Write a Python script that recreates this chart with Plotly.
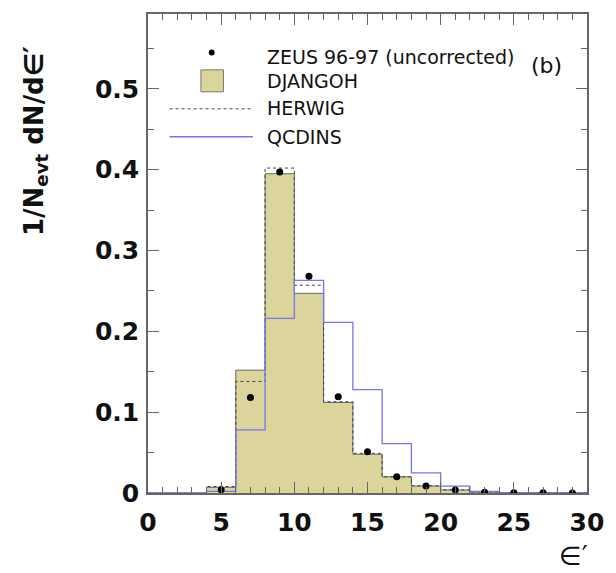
import plotly.graph_objects as go

# ---- data ----
bin_edges = [0, 2, 4, 6, 8, 10, 12, 14, 16, 18, 20, 22, 24, 26, 28, 30]
djangoh = [0, 0, 0.007, 0.152, 0.395, 0.247, 0.112, 0.048, 0.020, 0.0086, 0.0037, 0.0012, 0.0005, 0.0002, 0.0001]
herwig = [0, 0, 0.008, 0.138, 0.402, 0.257, 0.113, 0.049, 0.020, 0.009, 0.004, 0.0013, 0.0005, 0.0002, 0.0001]
qcdins = [0, 0, 0.002, 0.078, 0.216, 0.263, 0.211, 0.128, 0.061, 0.025, 0.0086, 0.002, 0.0005, 0.0002, 0.0001]
zeus_x = [5, 7, 9, 11, 13, 15, 17, 19, 21, 23, 25, 27, 29]
zeus_y = [0.004, 0.118, 0.397, 0.268, 0.119, 0.051, 0.020, 0.0086, 0.0037, 0.0008, 0.0003, 0.0002, 0.0001]
x_ticks = [0, 5, 10, 15, 20, 25, 30]
y_ticks = [0, 0.1, 0.2, 0.3, 0.4, 0.5]
y_tick_labels = ["0", "0.1", "0.2", "0.3", "0.4", "0.5"]

FILL = "#dbd59b"
BLUE = "#7474f4"
FONT = "DejaVu Sans"

def stairs(vals):
    return bin_edges, list(vals) + [vals[-1]]

fig = go.Figure()
sx, sy = stairs(djangoh)
fig.add_trace(go.Scatter(x=sx, y=sy, mode="lines", line=dict(shape="hv", color="#666", width=1),
                         fill="tozeroy", fillcolor=FILL, name="DJANGOH", showlegend=False))
sx, sy = stairs(herwig)
fig.add_trace(go.Scatter(x=sx, y=sy, mode="lines", line=dict(shape="hv", color="#444", width=1, dash="dot"),
                         name="HERWIG", showlegend=False))
sx, sy = stairs(qcdins)
fig.add_trace(go.Scatter(x=sx, y=sy, mode="lines", line=dict(shape="hv", color=BLUE, width=1.3),
                         name="QCDINS", showlegend=False))
fig.add_trace(go.Scatter(x=zeus_x, y=zeus_y, mode="markers", marker=dict(color="black", size=7),
                         name="ZEUS 96-97 (uncorrected)", showlegend=False))

L, R, T, B = 148, 596, 13, 493
W, H = 616, 573
def px(x):
    return (x - L) / (R - L)
def py(y):
    return (B - y) / (B - T)

# legend (manual)
shapes = [
    dict(type="circle", xref="paper", yref="paper", x0=px(210), x1=px(216), y0=py(48.5), y1=py(54.5),
         fillcolor="black", line=dict(width=0)),
    dict(type="rect", xref="paper", yref="paper", x0=px(202), x1=px(225), y0=py(69), y1=py(91),
         fillcolor=FILL, line=dict(color="#777", width=1)),
    dict(type="line", xref="paper", yref="paper", x0=px(170), x1=px(255), y0=py(108), y1=py(108),
         line=dict(color="#444", width=1, dash="dot")),
    dict(type="line", xref="paper", yref="paper", x0=px(170), x1=px(255), y0=py(136), y1=py(136),
         line=dict(color=BLUE, width=1.3)),
]
annotations = []
for txt, yc in [("ZEUS 96-97 (uncorrected)", 56), ("DJANGOH", 80), ("HERWIG", 107), ("QCDINS", 136)]:
    annotations.append(dict(text=txt, xref="paper", yref="paper", x=px(267), y=py(yc), xanchor="left",
                            yanchor="middle", showarrow=False, font=dict(family=FONT, size=19, color="#111")))
annotations.append(dict(text="(b)", xref="paper", yref="paper", x=px(555), y=py(65), xanchor="center",
                        yanchor="middle", showarrow=False, font=dict(family=FONT, size=22, color="#111")))
annotations.append(dict(text="1/N<sub>evt</sub> dN/d∈′", xref="paper", yref="paper", x=px(33), y=py(140),
                        xanchor="center", yanchor="middle", textangle=-90, showarrow=False,
                        font=dict(family=FONT, size=26, color="#111", weight="bold")))
annotations.append(dict(text="∈′", xref="paper", yref="paper", x=px(582), y=py(556), xanchor="center",
                        yanchor="middle", showarrow=False, font=dict(family=FONT, size=26, color="#111")))

fig.update_layout(
    width=W, height=H, margin=dict(l=L, r=W - R, t=T, b=H - B),
    paper_bgcolor="white", plot_bgcolor="white", showlegend=False,
    shapes=shapes, annotations=annotations,
    xaxis=dict(range=[0, 30], tickvals=x_ticks, ticks="inside", ticklen=11, tickcolor="#666",
               showgrid=False, zeroline=False, showline=True, linecolor="#666", linewidth=1.5, mirror="ticks",
               minor=dict(dtick=1, ticks="inside", ticklen=6, tickcolor="#666"),
               tickfont=dict(family=FONT, size=25, color="#111", weight="bold"), ticklabelstandoff=6),
    yaxis=dict(range=[0, 0.5926], tickvals=y_ticks, ticktext=y_tick_labels, ticks="inside", ticklen=11,
               tickcolor="#666", showgrid=False, zeroline=False, showline=True, linecolor="#666", linewidth=1.5,
               mirror="ticks", minor=dict(dtick=0.05, ticks="inside", ticklen=6, tickcolor="#666"),
               tickfont=dict(family=FONT, size=25, color="#111", weight="bold"), ticklabelstandoff=2),
)
fig.write_html("out.html")
